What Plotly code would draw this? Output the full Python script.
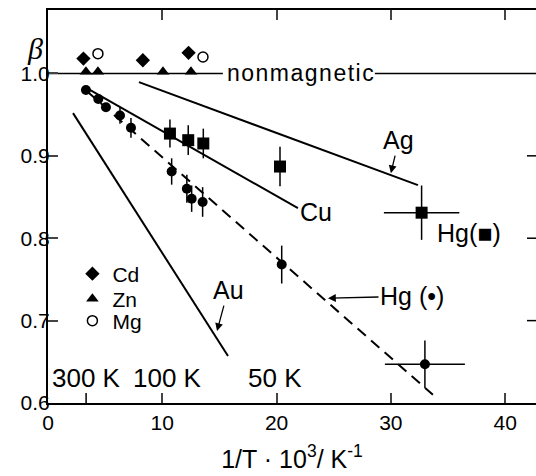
import plotly.graph_objects as go

# ---- data ----
# Hg (circles): 1/T*10^3 [1/K], beta, vertical error
hg_c_x = [3.32, 4.40, 5.07, 6.30, 7.26, 10.82, 12.15, 12.57, 13.53, 20.45, 32.98]
hg_c_y = [0.980, 0.969, 0.959, 0.949, 0.934, 0.881, 0.860, 0.848, 0.844, 0.768, 0.647]
hg_c_err = [0, 0, 0, 0.010, 0.012, 0.016, 0.017, 0.016, 0.018, 0.023, 0.029]
hg_c_xerr = [0, 0, 0, 0, 0, 0, 0, 0, 0, 0, 3.5]

# Hg (squares)
hg_s_x = [10.67, 12.27, 13.59, 20.30, 32.69]
hg_s_y = [0.927, 0.919, 0.915, 0.887, 0.831]
hg_s_err = [0.017, 0.018, 0.018, 0.024, 0.033]
hg_s_xerr = [0, 0, 0, 0, 3.3]

# nonmagnetic hosts
cd_x = [3.1, 8.3, 12.3]
cd_y = [1.018, 1.016, 1.025]
zn_x = [3.32, 4.37, 10.06, 12.51]
zn_y = [1.002, 1.002, 1.002, 1.002]
mg_x = [4.37, 13.56]
mg_y = [1.024, 1.020]

# straight lines (end points)
ag_x = [7.96, 32.37]
ag_y = [0.9895, 0.8644]
cu_x = [3.24, 21.87]
cu_y = [0.9834, 0.8365]
au_x = [2.19, 15.75]
au_y = [0.9518, 0.657]
hg_dash_x = [3.41, 33.68]
hg_dash_y = [0.9785, 0.610]
nonmag_x = [0, 15.3, None, 28.6, 42.7]
nonmag_y = [1.0, 1.0, None, 1.0, 1.0]

x_ticks = [0, 10, 20, 30, 40]
y_ticks = [0.6, 0.7, 0.8, 0.9, 1.0]
y_ticktext = ["0.6", "0.7", "0.8", "0.9", "1.0"]
right_ticks = [0.7, 0.8, 0.9]
temp_ticks = [1000 / 300, 1000 / 100, 1000 / 50]
temp_labels = ["300 K", "100 K", "50 K"]
temp_label_shift = [0, 5, -2]

XR = [0, 42.7]
YR = [0.6, 1.077]
FONT = "Liberation Sans, Arial"
BLACK = "black"
W, H = 536, 476
ML, MR, MT, MB = 48, 0, 10, 73
PW, PH = W - ML - MR, H - MT - MB

fig = go.Figure()

line_style = dict(color=BLACK, width=2)
for lx, ly in [(ag_x, ag_y), (cu_x, cu_y), (au_x, au_y)]:
    fig.add_trace(go.Scatter(x=lx, y=ly, mode="lines", line=line_style,
                             showlegend=False, hoverinfo="skip"))
fig.add_trace(go.Scatter(x=hg_dash_x, y=hg_dash_y, mode="lines",
                         line=dict(color=BLACK, width=2, dash="11px,7px"),
                         showlegend=False, hoverinfo="skip"))
fig.add_trace(go.Scatter(x=nonmag_x, y=nonmag_y, mode="lines",
                         line=dict(color=BLACK, width=1.5),
                         showlegend=False, hoverinfo="skip"))

fig.add_trace(go.Scatter(
    x=hg_c_x, y=hg_c_y, mode="markers",
    marker=dict(symbol="circle", size=10, color=BLACK),
    error_y=dict(type="data", array=hg_c_err, color=BLACK, thickness=1.5, width=0),
    error_x=dict(type="data", array=hg_c_xerr, color=BLACK, thickness=1.5, width=0),
    showlegend=False))
fig.add_trace(go.Scatter(
    x=hg_s_x, y=hg_s_y, mode="markers",
    marker=dict(symbol="square", size=12, color=BLACK),
    error_y=dict(type="data", array=hg_s_err, color=BLACK, thickness=1.5, width=0),
    error_x=dict(type="data", array=hg_s_xerr, color=BLACK, thickness=1.5, width=0),
    showlegend=False))

fig.add_trace(go.Scatter(x=cd_x, y=cd_y, mode="markers", name="Cd", legend="legend",
                         marker=dict(symbol="diamond", size=11, color=BLACK)))
fig.add_trace(go.Scatter(x=zn_x, y=zn_y, mode="markers", name="Zn", legend="legend2",
                         marker=dict(symbol="triangle-up", size=11, color=BLACK)))
fig.add_trace(go.Scatter(x=mg_x, y=mg_y, mode="markers", name="Mg", legend="legend3",
                         marker=dict(symbol="circle-open", size=10, color=BLACK,
                                     line=dict(width=1.5, color=BLACK))))

ann = []
def label(text, x, y, size=25, family=FONT, **kw):
    d = dict(text=text, x=x, y=y, xref="x", yref="y", showarrow=False,
             font=dict(family=family, size=size, color=BLACK))
    d.update(kw)
    ann.append(d)

arrow = dict(showarrow=True, arrowhead=2, arrowsize=1.2, arrowwidth=1.3, arrowcolor=BLACK)
label("Ag", 30.0, 0.879, ax=8, ay=-33, **arrow)
label("Au", 14.79, 0.6873, ax=11, ay=-41, **arrow)
label("Hg (•)", 24.5, 0.7272, ax=84, ay=-2, **arrow)
label("Cu", 23.45, 0.8317)
label("Hg(■)", 36.83, 0.8062)
label('<span style="letter-spacing:1.5px">nonmagnetic</span>', 22.15, 1.0, size=23)
for tx, tl, sh in zip(temp_ticks, temp_labels, temp_label_shift):
    label(tl, tx, 0.630, size=26, xshift=sh)
ann.append(dict(text="<i>β</i>", x=(25 - ML) / PW, y=1 - (30 - MT) / PH,
                xref="paper", yref="paper", showarrow=False,
                font=dict(family="Liberation Serif, Times New Roman, serif", size=30,
                          color=BLACK)))

shapes = []
for yv in right_ticks:
    shapes.append(dict(type="line", xref="paper", yref="y", x0=1, x1=1 - 9 / PW,
                       y0=yv, y1=yv, line=dict(color=BLACK, width=1.5)))
shapes.append(dict(type="line", xref="x", yref="paper", x0=temp_ticks[0], x1=temp_ticks[0],
                   y0=0, y1=10 / PH, line=dict(color=BLACK, width=1.5)))

def legend_at(center_px):
    return dict(x=0.05, y=1 - (center_px - MT) / PH, xanchor="left", yanchor="middle",
                bgcolor="rgba(0,0,0,0)", font=dict(family=FONT, size=21),
                itemwidth=30, tracegroupgap=0)

fig.update_layout(
    width=W, height=H,
    margin=dict(l=ML, r=MR, t=MT, b=MB),
    plot_bgcolor="white", paper_bgcolor="white",
    font=dict(family=FONT, size=20, color=BLACK),
    annotations=ann, shapes=shapes,
    showlegend=True,
    legend=legend_at(274), legend2=legend_at(299), legend3=legend_at(321),
    xaxis=dict(range=XR, tickvals=x_ticks, ticks="inside", ticklen=10, tickwidth=1.5,
               showline=True, linewidth=2, linecolor=BLACK, mirror="ticks",
               showgrid=False, zeroline=False,
               tickfont=dict(family=FONT, size=21),
               title=dict(text="1/T · 10<sup>3</sup>/ K<sup>-1</sup>",
                          font=dict(family=FONT, size=25), standoff=17)),
    yaxis=dict(range=YR, tickvals=y_ticks, ticktext=y_ticktext, ticks="inside",
               ticklen=10, tickwidth=1.5, showline=True, linewidth=2, linecolor=BLACK,
               mirror=False, showgrid=False, zeroline=False, ticklabelstandoff=-8,
               tickfont=dict(family=FONT, size=21)),
)

fig.write_html("out.html", config={"displayModeBar": False},
               post_script="document.body.style.margin='0';document.body.style.overflow='hidden';")
